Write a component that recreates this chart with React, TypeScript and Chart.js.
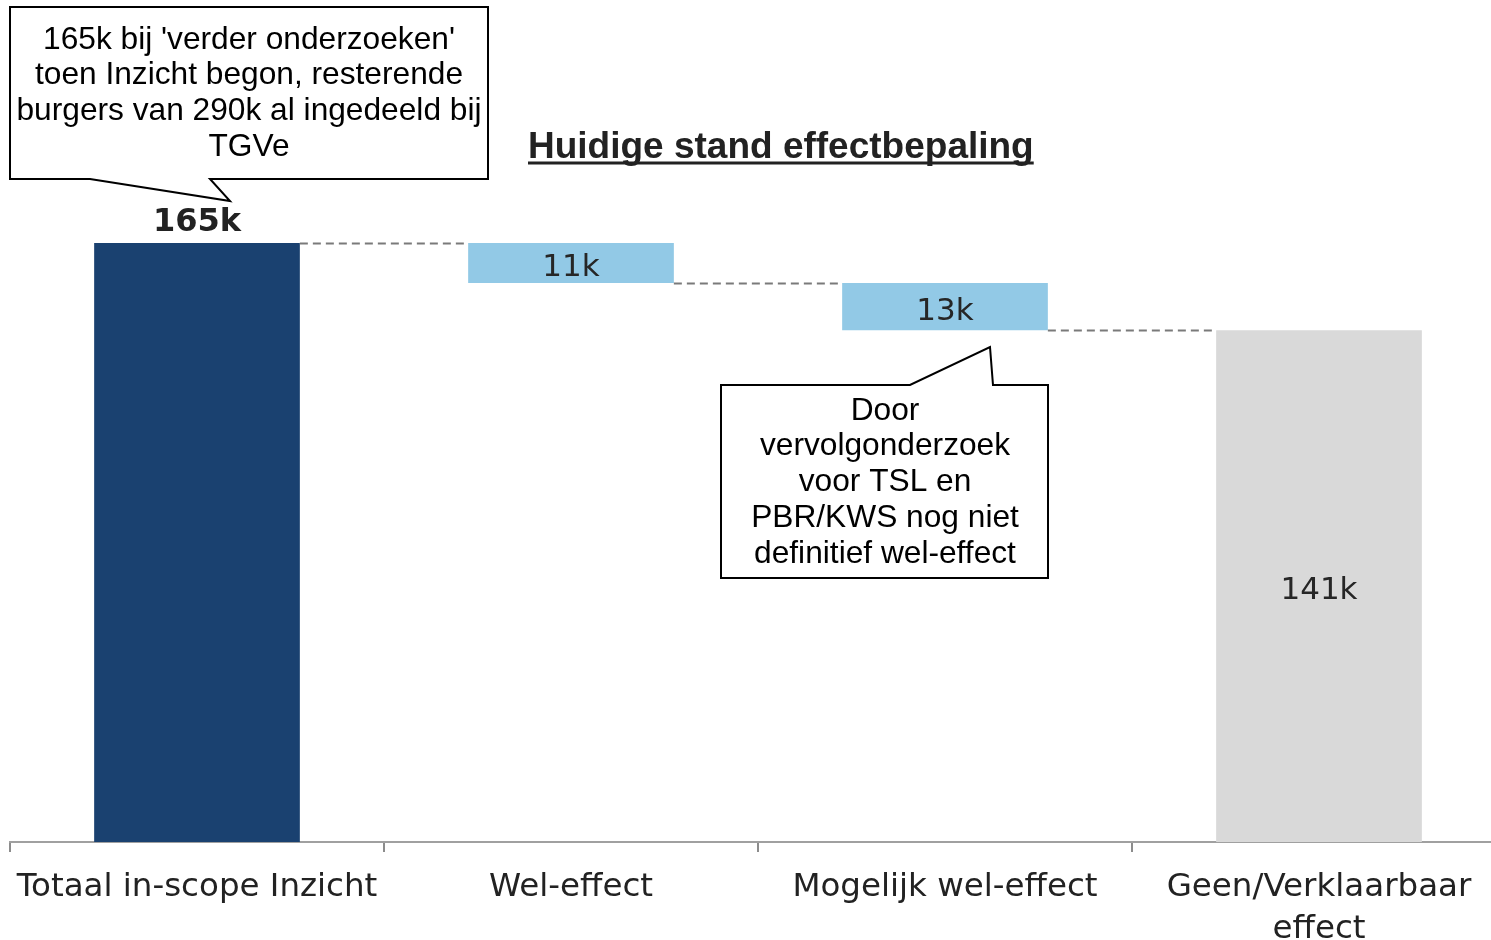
import React, { useEffect, useRef } from "react";
import { Chart, registerables } from "chart.js";

Chart.register(...registerables);

const categories: (string | string[])[] = [
  "Totaal in-scope Inzicht",
  "Wel-effect",
  "Mogelijk wel-effect",
  ["Geen/Verklaarbaar", "effect"],
];
const barStarts = [0, 154, 141, 0];
const barEnds = [165, 165, 154, 141];
const valueLabels = ["165k", "11k", "13k", "141k"];
const barColors = ["#1A4170", "#92C9E6", "#92C9E6", "#D9D9D9"];
const yMax = 200;

const titleText = "Huidige stand effectbepaling";
const callout1Lines = [
  "165k bij 'verder onderzoeken'",
  "toen Inzicht begon, resterende",
  "burgers van 290k al ingedeeld bij",
  "TGVe",
];
const callout2Lines = [
  "Door",
  "vervolgonderzoek",
  "voor TSL en",
  "PBR/KWS nog niet",
  "definitief wel-effect",
];

const CANVAS_W = 1520;
const CANVAS_H = 940;

const overlayPlugin = {
  id: "waterfallOverlay",
  afterDatasetsDraw(chart: any) {
    const ctx = chart.ctx as CanvasRenderingContext2D;
    const meta = chart.getDatasetMeta(0);
    const yScale = chart.scales.y;
    ctx.save();
    // connectors
    ctx.strokeStyle = "#7a7a7a";
    ctx.lineWidth = 2;
    ctx.setLineDash([8, 5]);
    for (let i = 0; i < meta.data.length - 1; i++) {
      const a = meta.data[i];
      const b = meta.data[i + 1];
      const y = Math.round(yScale.getPixelForValue(barEnds[i + 1])) + 0.5;
      ctx.beginPath();
      ctx.moveTo(a.x + a.width / 2, y);
      ctx.lineTo(b.x - b.width / 2, y);
      ctx.stroke();
    }
    ctx.setLineDash([]);
    // value labels
    ctx.textAlign = "center";
    for (let i = 0; i < meta.data.length; i++) {
      const el = meta.data[i];
      const top = yScale.getPixelForValue(barEnds[i]);
      const bot = yScale.getPixelForValue(barStarts[i]);
      if (i === 0) {
        ctx.font = "bold 32px 'DejaVu Sans'";
        ctx.fillStyle = "#222222";
        ctx.textBaseline = "alphabetic";
        ctx.fillText(valueLabels[i], el.x, top - 12);
      } else {
        ctx.font = "31px 'DejaVu Sans'";
        ctx.fillStyle = "#262626";
        ctx.textBaseline = "middle";
        ctx.fillText(valueLabels[i], el.x, (top + bot) / 2 + 5);
      }
    }
    ctx.restore();
  },
  afterDraw(chart: any) {
    const ctx = chart.ctx as CanvasRenderingContext2D;
    ctx.save();
    // title
    ctx.font = "bold 37px 'Liberation Sans'";
    ctx.fillStyle = "#222222";
    ctx.textAlign = "left";
    ctx.textBaseline = "alphabetic";
    const tx = 528;
    const ty = 158;
    ctx.fillText(titleText, tx, ty);
    const tw = ctx.measureText(titleText).width;
    ctx.strokeStyle = "#222222";
    ctx.lineWidth = 3;
    ctx.beginPath();
    ctx.moveTo(tx, ty + 5);
    ctx.lineTo(tx + tw, ty + 5);
    ctx.stroke();

    // callouts
    const drawPoly = (pts: number[][]) => {
      ctx.beginPath();
      ctx.moveTo(pts[0][0], pts[0][1]);
      for (let i = 1; i < pts.length; i++) ctx.lineTo(pts[i][0], pts[i][1]);
      ctx.closePath();
      ctx.fillStyle = "#ffffff";
      ctx.fill();
      ctx.strokeStyle = "#000000";
      ctx.lineWidth = 2;
      ctx.stroke();
    };
    drawPoly([
      [10, 7],
      [488, 7],
      [488, 179],
      [210, 179],
      [230, 201],
      [90, 179],
      [10, 179],
    ]);
    drawPoly([
      [721, 385],
      [910, 385],
      [990, 347],
      [993, 385],
      [1048, 385],
      [1048, 578],
      [721, 578],
    ]);
    ctx.font = "31.7px 'Liberation Sans'";
    ctx.fillStyle = "#000000";
    ctx.textAlign = "center";
    ctx.textBaseline = "middle";
    callout1Lines.forEach((l, i) => ctx.fillText(l, 249, 40 + i * 35.7));
    callout2Lines.forEach((l, i) => ctx.fillText(l, 885, 411 + i * 35.7));
    ctx.restore();
  },
};

export default function App() {
  const ref = useRef<HTMLCanvasElement | null>(null);
  useEffect(() => {
    if (!ref.current) return;
    const chart = new Chart(ref.current, {
      type: "bar",
      data: {
        labels: categories as any,
        datasets: [
          {
            data: barStarts.map((s, i) => [s, barEnds[i]]) as any,
            backgroundColor: barColors,
            barPercentage: 0.55,
            categoryPercentage: 1,
            borderWidth: 0,
          },
        ],
      },
      options: {
        responsive: false,
        animation: false,
        devicePixelRatio: 1,
        layout: { padding: { left: 10, right: 14, top: 116, bottom: 0 } },
        plugins: {
          legend: { display: false },
          tooltip: { enabled: false },
        },
        scales: {
          x: {
            type: "category",
            offset: true,
            grid: {
              display: true,
              offset: true,
              drawOnChartArea: false,
              drawTicks: true,
              tickLength: 10,
              color: "#8c8c8c",
              lineWidth: 2,
            },
            border: { display: true, color: "#a0a0a0", width: 2 },
            ticks: {
              font: { family: "'DejaVu Sans'", size: 32.5, lineHeight: 1.3 },
              color: "#222222",
              padding: 14,
              maxRotation: 0,
              minRotation: 0,
              autoSkip: false,
            },
            afterFit: (s: any) => {
              s.height = 98;
            },
          },
          y: {
            display: false,
            min: 0,
            max: yMax,
          },
        },
      },
      plugins: [overlayPlugin],
    });
    return () => chart.destroy();
  }, []);
  return (
    <div
      style={{
        position: "absolute",
        left: 0,
        top: 0,
        width: 1491,
        height: 940,
        overflow: "hidden",
        background: "#ffffff",
      }}
    >
      <canvas
        ref={ref}
        width={CANVAS_W}
        height={CANVAS_H}
        style={{ display: "block", width: CANVAS_W, height: CANVAS_H }}
      />
    </div>
  );
}
